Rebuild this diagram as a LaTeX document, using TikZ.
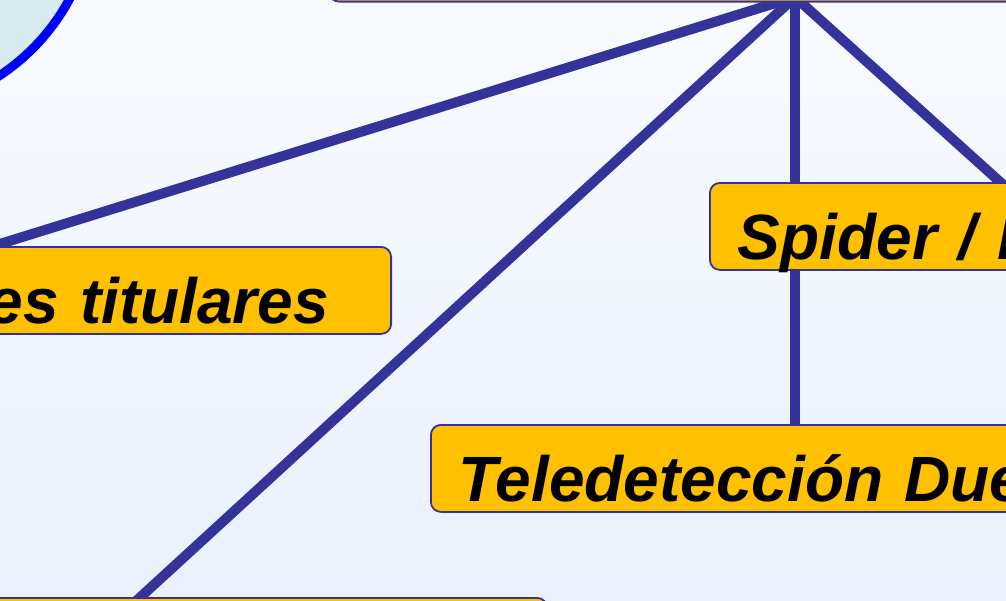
\documentclass[tikz,border=0pt]{standalone}
\usepackage{fontspec}
\setmainfont{Liberation Sans}
\definecolor{linec}{RGB}{51,51,153}
\definecolor{boxfill}{RGB}{255,192,0}
\definecolor{bgtop}{RGB}{248,250,254}
\definecolor{bgbot}{RGB}{234,241,252}
\definecolor{circfill}{RGB}{216,236,240}
\definecolor{circline}{RGB}{0,0,255}
\begin{document}
\begin{tikzpicture}[x=1pt,y=-1pt,
  conn/.style={draw=linec,line width=10pt},
  topic/.style={draw=linec,line width=1.8pt,fill=boxfill,rounded corners=10pt,
    minimum height=87pt,inner ysep=0pt,inner xsep=28pt,
    font=\fontsize{64}{70}\selectfont\bfseries\itshape,
    text height=66pt,text depth=0pt}]
\useasboundingbox (0,0) rectangle (1006,600);
\clip (0,0) rectangle (1006,600);
\shade[top color=bgtop,bottom color=bgbot] (0,0) rectangle (1006,600);
% circle (top left)
\filldraw[fill=circfill,draw=circline,line width=9pt] (-118,-102) circle[radius=213];
% hub and far ends
\coordinate (hub) at (795,-3);
\coordinate (leftend) at (-100,275);
\coordinate (botend) at (110,625);
\coordinate (rightend) at (1060,236);
\coordinate (downend) at (795,450);
% connectors
\draw[conn] (hub) -- (leftend);
\draw[conn] (hub) -- (botend);
\draw[conn] (hub) -- (downend);
\draw[conn] (hub) -- (rightend);
% boxes
\node[topic,anchor=south west,minimum width=900pt,minimum height=100pt] (topbox) at (328,2.5) {};
\node[topic,anchor=north west,text width=500pt,align=left] (spider) at (709,182) {Spider / I};
\node[topic,anchor=north east,text width=700pt,align=right,inner xsep=62pt] (titulares) at (392,246) {es titulares};
\node[topic,anchor=north west,text width=700pt,align=left] (tele) at (430,424) {Teledetección Due};
\node[topic,anchor=north east,minimum width=800pt] (botbox) at (548,597) {};
\end{tikzpicture}
\end{document}
